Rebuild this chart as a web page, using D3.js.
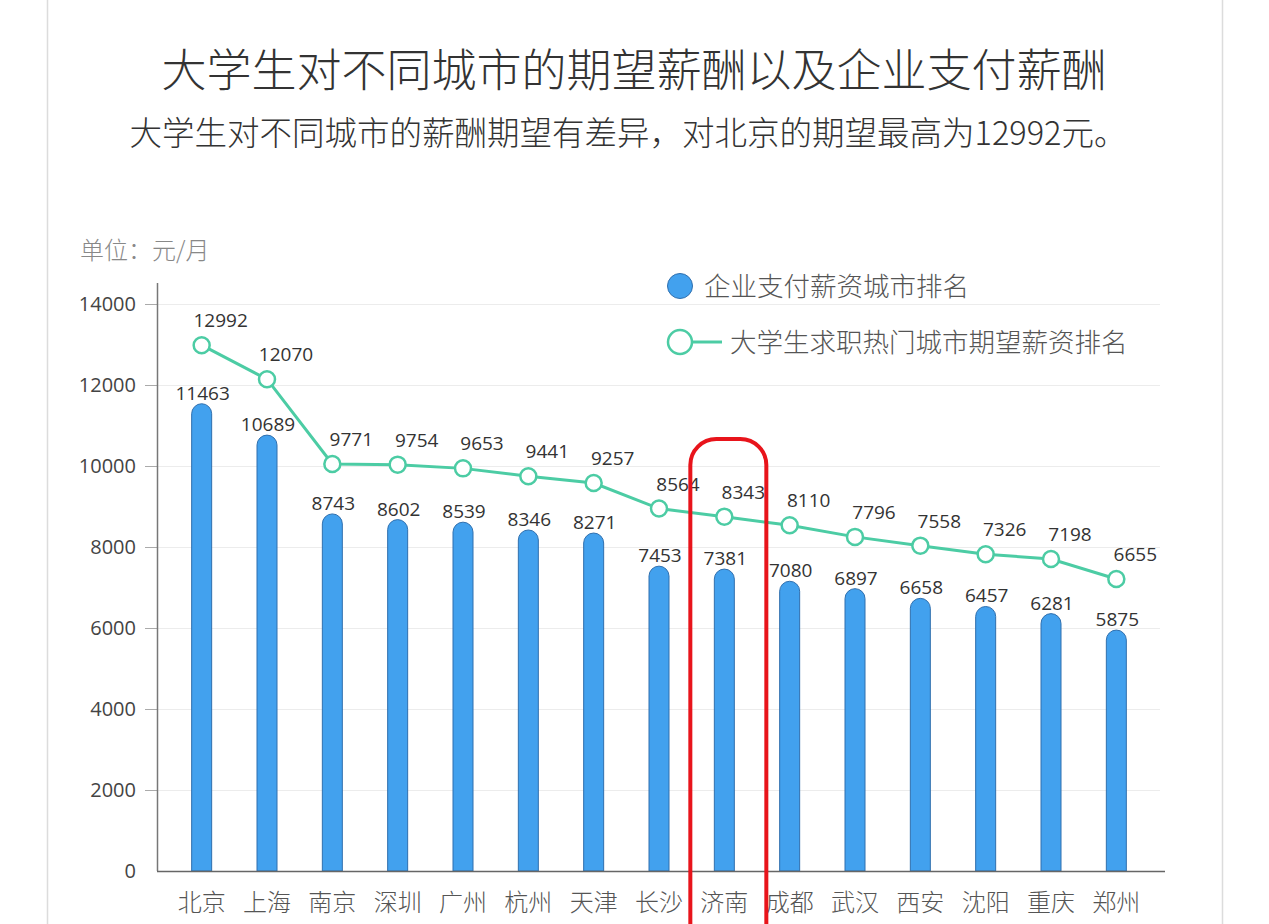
<!DOCTYPE html>
<html>
<head>
<meta charset="utf-8">
<script src="https://cdn.jsdelivr.net/npm/d3@7"></script>
<style>
  body { margin: 0; background: #fff; }
  svg { display: block; font-family: "Noto Sans CJK SC", "Noto Sans", sans-serif; }
</style>
</head>
<body>
<div class="chart"></div>
<script>
// data
let cities = ["北京", "上海", "南京", "深圳", "广州", "杭州", "天津", "长沙", "济南", "成都", "武汉", "西安", "沈阳", "重庆", "郑州"]
let paid = [11463, 10689, 8743, 8602, 8539, 8346, 8271, 7453, 7381, 7080, 6897, 6658, 6457, 6281, 5875]
let expected = [12992, 12070, 9771, 9754, 9653, 9441, 9257, 8564, 8343, 8110, 7796, 7558, 7326, 7198, 6655]
let yTicks = [0, 2000, 4000, 6000, 8000, 10000, 12000, 14000]
let highlight = "济南"

let width = 1269, height = 924
let svg = d3.select(".chart").append("svg")
    .attr("width", width)
    .attr("height", height)

// card edges
svg.append("line").attr("x1", 47.5).attr("x2", 47.5).attr("y1", 0).attr("y2", height)
    .attr("stroke", "#dcdcdc").attr("stroke-width", 1.5)
svg.append("line").attr("x1", 1222.5).attr("x2", 1222.5).attr("y1", 0).attr("y2", height)
    .attr("stroke", "#dcdcdc").attr("stroke-width", 1.5)

// titles
svg.append("text").attr("x", 634).attr("y", 87).attr("text-anchor", "middle")
    .attr("font-size", 45).attr("font-weight", 300).attr("fill", "#333")
    .text("大学生对不同城市的期望薪酬以及企业支付薪酬")
svg.append("text").attr("x", 628).attr("y", 145).attr("text-anchor", "middle")
    .attr("font-size", 32.5).attr("font-weight", 300).attr("fill", "#333")
    .text("大学生对不同城市的薪酬期望有差异，对北京的期望最高为12992元。")
svg.append("text").attr("x", 80).attr("y", 259)
    .attr("font-size", 24).attr("font-weight", 300).attr("fill", "#888")
    .text("单位：元/月")

// scales (the line sits on its own, hidden secondary scale)
let x = d3.scaleBand().domain(cities).range([169, 1149])
let y = d3.scaleLinear().domain([0, 14000]).range([871, 304])
let yLine = d3.scaleLinear().domain([0, 14000]).range([824.5, 308])

// grid
svg.append("g").selectAll("line").data(yTicks.slice(1)).enter().append("line")
    .attr("x1", 157).attr("x2", 1160)
    .attr("y1", d => y(d) + 0.5).attr("y2", d => y(d) + 0.5)
    .attr("stroke", "#ececec")

// y axis
let yAxis = svg.append("g").attr("transform", "translate(157,0)")
    .call(d3.axisLeft(y).tickValues(yTicks).tickSize(12).tickPadding(9).tickFormat(d3.format("d")))
yAxis.select(".domain").remove()
yAxis.selectAll(".tick line").attr("stroke", "#aaa")
yAxis.selectAll(".tick text").attr("font-size", 20).attr("fill", "#444")
    .attr("font-family", "Open Sans, Noto Sans, sans-serif")
yAxis.select(".tick line").remove()
svg.append("line").attr("x1", 157.5).attr("x2", 157.5).attr("y1", 283).attr("y2", 871)
    .attr("stroke", "#777").attr("stroke-width", 1.5)

// bars with rounded tops
let bw = 20
svg.append("g").selectAll("path").data(cities).enter().append("path")
    .attr("d", (c, i) => {
        let cx = x(c) + x.bandwidth() / 2
        let top = y(paid[i]) - 3, r = bw / 2
        return "M" + (cx - r) + "," + y(0) + "V" + (top + r) +
            "A" + r + "," + r + " 0 0 1 " + (cx + r) + "," + (top + r) +
            "V" + y(0) + "Z"
    })
    .attr("fill", "#42a1ee")
    .attr("stroke", "#2f6fae")
    .attr("stroke-width", 1)

// x axis
svg.append("line").attr("x1", 157).attr("x2", 1165).attr("y1", 871.5).attr("y2", 871.5)
    .attr("stroke", "#666").attr("stroke-width", 1.5)
svg.append("g").selectAll("text").data(cities).enter().append("text")
    .attr("x", c => x(c) + x.bandwidth() / 2)
    .attr("y", 911)
    .attr("text-anchor", "middle")
    .attr("font-size", 24).attr("font-weight", 300).attr("fill", "#555")
    .text(c => c)

// bar labels
svg.append("g").selectAll("text").data(cities).enter().append("text")
    .attr("x", c => x(c) + x.bandwidth() / 2 + 1)
    .attr("y", (c, i) => y(paid[i]) - 7)
    .attr("text-anchor", "middle")
    .attr("font-size", 19).attr("fill", "#333")
    .attr("font-family", "Open Sans, Noto Sans, sans-serif")
    .text((c, i) => paid[i])

// line
let lineColor = "#4ccca4"
let line = d3.line()
    .x((d, i) => x(cities[i]) + x.bandwidth() / 2)
    .y(d => yLine(d))
svg.append("path").datum(expected)
    .attr("d", line)
    .attr("fill", "none")
    .attr("stroke", lineColor)
    .attr("stroke-width", 3)
svg.append("g").selectAll("circle").data(expected).enter().append("circle")
    .attr("cx", (d, i) => x(cities[i]) + x.bandwidth() / 2)
    .attr("cy", d => yLine(d))
    .attr("r", 8)
    .attr("fill", "#fff")
    .attr("stroke", lineColor)
    .attr("stroke-width", 2.5)
svg.append("g").selectAll("text").data(expected).enter().append("text")
    .attr("x", (d, i) => x(cities[i]) + x.bandwidth() / 2 + 19)
    .attr("y", d => yLine(d) - 18)
    .attr("text-anchor", "middle")
    .attr("font-size", 19).attr("fill", "#333")
    .attr("font-family", "Open Sans, Noto Sans, sans-serif")
    .text(d => d)

// legend
svg.append("circle").attr("cx", 680).attr("cy", 286).attr("r", 12.5)
    .attr("fill", "#42a1ee").attr("stroke", "#2f6fae").attr("stroke-width", 1)
svg.append("text").attr("x", 704).attr("y", 296)
    .attr("font-size", 26.5).attr("font-weight", 300).attr("fill", "#555").text("企业支付薪资城市排名")
svg.append("line").attr("x1", 690).attr("x2", 722).attr("y1", 342).attr("y2", 342)
    .attr("stroke", lineColor).attr("stroke-width", 3)
svg.append("circle").attr("cx", 680).attr("cy", 342).attr("r", 12)
    .attr("fill", "#fff").attr("stroke", lineColor).attr("stroke-width", 2.5)
svg.append("text").attr("x", 730).attr("y", 352)
    .attr("font-size", 26.5).attr("font-weight", 300).attr("fill", "#555").text("大学生求职热门城市期望薪资排名")

// red highlight around one city
let hx = x(highlight) + x.bandwidth() / 2
svg.append("rect")
    .attr("x", hx - 34).attr("y", 439)
    .attr("width", 76).attr("height", 540)
    .attr("rx", 26)
    .attr("fill", "none")
    .attr("stroke", "#e8141b")
    .attr("stroke-width", 4)
</script>
</body>
</html>
